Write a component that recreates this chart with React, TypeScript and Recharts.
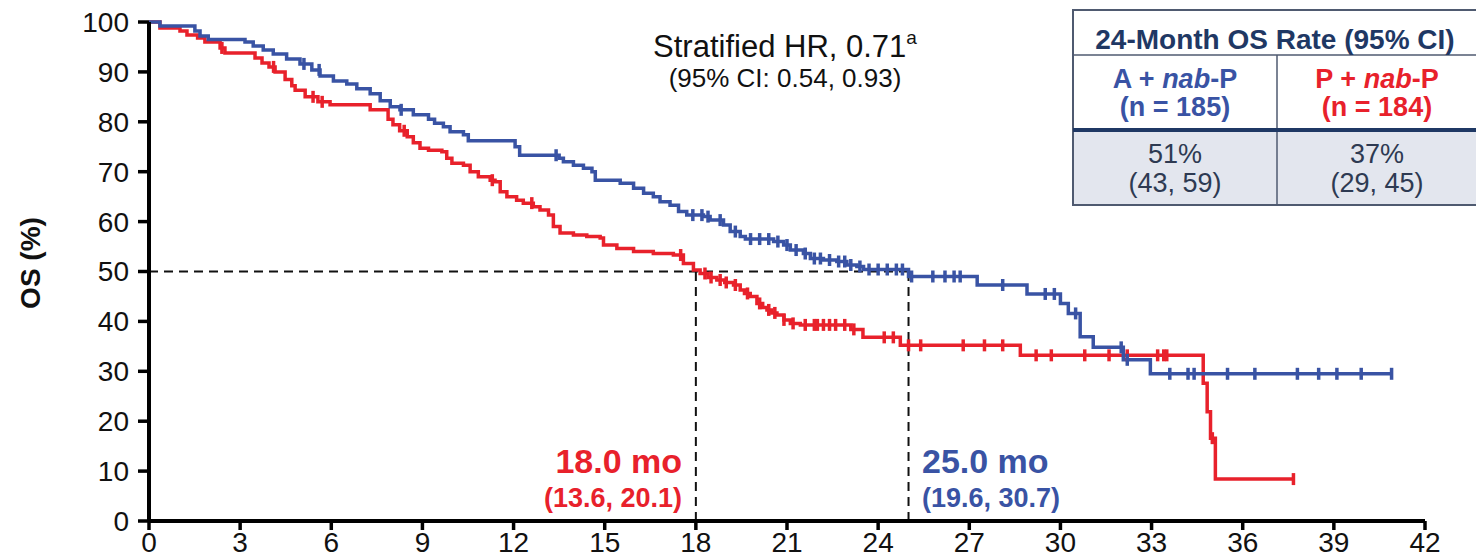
import React from "react";
import { ComposedChart, Line, XAxis, YAxis, ReferenceLine } from "recharts";

const BLUE = "#3953a4";
const RED = "#e8212b";
const NAVY = "#1f3864";
const FONT = "'Liberation Sans', Arial, sans-serif";

const xTicks = [0, 3, 6, 9, 12, 15, 18, 21, 24, 27, 30, 33, 36, 39, 42];
const yTicks = [0, 10, 20, 30, 40, 50, 60, 70, 80, 90, 100];

// A + nab-P (n = 185): event times (months) and survival (%) after each step
const blueTimes = [
  0, 0.36, 1.51, 1.68, 1.95, 3.16, 3.43, 3.76, 4.09, 4.53, 4.97, 5.36, 5.63, 6.07, 6.51, 6.84, 7.28,
  7.61, 7.94, 8.26, 8.7, 9.2, 9.4, 9.69, 9.91, 10.35, 10.51, 12.05, 12.2, 13.5, 13.64, 13.97, 14.3,
  14.58, 14.69, 15.51, 15.95, 16.28, 16.6, 16.82, 17.15, 17.43, 17.7, 18.25, 18.47, 18.91, 19.13,
  19.46, 19.63, 20.56, 20.89, 21.11, 21.54, 21.77, 22.2, 22.64, 22.97, 23.3, 23.52, 25.0, 27.26,
  28.9, 30.0, 30.26, 30.65, 31.08, 32.07, 32.96,
];
const blueSurv = [
  100, 99.2, 98.2, 97.2, 96.5, 96, 95.2, 94.4, 93.6, 92.6, 91.6, 90.4, 89.2, 88.2, 87.6, 86.6, 85.6,
  84.2, 83, 82.4, 81.4, 80.5, 79.7, 79, 78, 77.4, 76.2, 75, 73.3, 72.7, 72, 71.3, 70.7,
  70, 68.3, 67.7, 66.7, 65.7, 65, 64, 63.3, 62, 61.3, 61, 60.3, 59.3, 58,
  57, 56.5, 56, 55.3, 54.3, 53.6, 52.6, 52.3, 52, 51.3, 51, 50.4, 49, 47.3,
  45.5, 43.6, 41.6, 36.9, 34.8, 32.3, 29.5,
];
const blueCensor = [
  5.1, 5.6, 8.3, 13.4, 17.9, 18.2, 18.4, 18.8, 19.3, 19.8, 20.1, 20.4, 20.7, 21.0, 21.3, 21.6, 21.9,
  22.1, 22.4, 22.7, 22.9, 23.1, 23.4, 23.7, 24.0, 24.3, 24.6, 24.8, 25.1, 25.8, 26.2, 26.5, 26.7,
  28.1, 29.5, 29.8, 30.5, 32.0, 32.2, 33.6, 34.2, 34.4, 35.5, 36.4, 37.8, 38.5, 39.1, 39.9, 40.9,
];

// P + nab-P (n = 184)
const redTimes = [
  0, 0.36, 1.02, 1.25, 1.6, 1.84, 2.34, 2.5, 3.49, 3.72, 3.95, 4.15, 4.48, 4.7, 4.81, 5.14, 5.56,
  5.96, 7.28, 7.87, 8.03, 8.25, 8.5, 8.7, 8.92, 9.2, 9.64, 9.8, 9.97, 10.35, 10.57, 10.84, 11.23,
  11.39, 11.56, 11.78, 12.1, 12.32, 12.65, 12.87, 13.15, 13.31, 13.53, 13.97, 14.41, 14.85, 14.96,
  15.4, 15.95, 16.6, 17.26, 17.59, 17.92, 18.14, 18.4, 18.69, 18.95, 19.24, 19.46, 19.6, 19.79,
  20.01, 20.2, 20.34, 20.5, 20.67, 20.9, 21.11, 21.44, 23.1, 23.5, 24.73, 28.68, 34.7, 34.83,
  34.94, 35.1,
];
const redSurv = [
  100, 98.8, 98.2, 97.4, 96.8, 96, 94.8, 93.8, 92.8, 91.8, 91, 90, 88.5, 87.2, 86.3, 85, 84,
  83.4, 82.4, 80.5, 79.4, 78.2, 77, 75.8, 74.7, 74.3, 74, 72.7, 71.7, 71.3, 70, 69, 68.3,
  68, 66, 65, 64.3, 63.7, 63, 62.3, 61.3, 59, 57.7, 57.3, 57, 56.7, 55.3,
  54.6, 54, 53.6, 53.3, 51.6, 50.3, 49.6, 48.8, 48.3, 47.8, 47.3, 46.3, 45.6, 45,
  43.6, 42.8, 42.3, 41.7, 41.3, 40.3, 39.6, 39.3, 38.4, 36.8, 35.2, 33.2, 27.6, 21.9,
  16.6, 8.4,
];
const redCensor = [
  2.4, 4.1, 5.4, 5.7, 8.4, 11.3, 12.6, 17.5, 18.3, 18.5, 18.8, 19.0, 19.3, 19.7, 20.1, 20.4, 20.6,
  20.9, 21.2, 21.6, 21.9, 22.0, 22.2, 22.4, 22.6, 22.9, 23.2, 24.2, 24.5, 25.0, 25.4, 26.8, 27.5,
  28.1, 29.2, 29.7, 30.8, 31.6, 32.2, 33.2, 33.4, 33.5, 35.0, 37.67,
];

const medianRed = 18.0;
const medianBlue = 25.0;

type Pt = { t: number; s: number; c: boolean };

function buildCurve(times: number[], surv: number[], censor: number[]): Pt[] {
  const survAt = (t: number) => {
    let v = surv[0];
    for (let i = 0; i < times.length; i++) if (times[i] <= t) v = surv[i];
    return v;
  };
  const pts: Pt[] = times.map((t, i) => ({ t, s: surv[i], c: false }));
  censor.forEach((t) => pts.push({ t, s: survAt(t), c: true }));
  pts.sort((a, b) => a.t - b.t || Number(a.c) - Number(b.c));
  return pts;
}

const blueData = buildCurve(blueTimes, blueSurv, blueCensor);
const redData = buildCurve(redTimes, redSurv, redCensor);

const censorDot = (color: string) => (props: any) => {
  const { cx, cy, payload, index } = props;
  if (!payload || !payload.c) return <g key={`e${index}`} />;
  return (
    <line key={`c${index}`} x1={cx} x2={cx} y1={cy - 6} y2={cy + 6} stroke={color} strokeWidth={3.5} />
  );
};

const tickStyle = { fill: "#111", fontSize: 28, fontFamily: FONT };
const dash = { stroke: "#111", strokeWidth: 2, strokeDasharray: "9 6" };

export default function App() {
  return (
    <div style={{ position: "relative", width: 1476, height: 560, background: "#fff" }}>
      <style>{"body{margin:0}"}</style>
      <ComposedChart width={1476} height={560} margin={{ top: 22, right: 51, bottom: 0, left: 0 }}>
        <XAxis
          type="number"
          dataKey="t"
          domain={[0, 42]}
          ticks={xTicks}
          interval={0}
          height={39}
          tickSize={9}
          tickMargin={2}
          tick={tickStyle}
          axisLine={{ stroke: "#000", strokeWidth: 4 }}
          tickLine={{ stroke: "#000", strokeWidth: 3.5 }}
        />
        <YAxis
          type="number"
          domain={[0, 100]}
          ticks={yTicks}
          interval={0}
          width={149}
          tickSize={11}
          tickMargin={9}
          tick={tickStyle}
          axisLine={{ stroke: "#000", strokeWidth: 4 }}
          tickLine={{ stroke: "#000", strokeWidth: 3.5 }}
        />
        <ReferenceLine segment={[{ x: 0, y: 50 }, { x: medianBlue, y: 50 }]} {...dash} />
        <ReferenceLine segment={[{ x: medianRed, y: 0 }, { x: medianRed, y: 50 }]} {...dash} />
        <ReferenceLine segment={[{ x: medianBlue, y: 0 }, { x: medianBlue, y: 50 }]} {...dash} />
        <Line
          data={redData}
          dataKey="s"
          type="stepAfter"
          stroke={RED}
          strokeWidth={3.5}
          dot={censorDot(RED)}
          activeDot={false}
          isAnimationActive={false}
        />
        <Line
          data={blueData}
          dataKey="s"
          type="stepAfter"
          stroke={BLUE}
          strokeWidth={3.5}
          dot={censorDot(BLUE)}
          activeDot={false}
          isAnimationActive={false}
        />
      </ComposedChart>

      <svg
        width={1476}
        height={560}
        style={{ position: "absolute", left: 0, top: 0, pointerEvents: "none" }}
        fontFamily={FONT}
      >
        <text x={30} y={263} transform="rotate(-90 30 263)" textAnchor="middle" dominantBaseline="central"
          fontSize={28} fontWeight="bold" fill="#111">
          OS (%)
        </text>

        <text x={785} y={57} textAnchor="middle" fontSize={31} fill="#111">
          Stratified HR, 0.71<tspan fontSize={19} dy={-13}>a</tspan>
        </text>
        <text x={785} y={87} textAnchor="middle" fontSize={26} fill="#111">
          (95% CI: 0.54, 0.93)
        </text>

        <text x={682} y={473} textAnchor="end" fontSize={34} fontWeight="bold" fill={RED}>18.0 mo</text>
        <text x={682} y={507} textAnchor="end" fontSize={27} fontWeight="bold" fill={RED}>(13.6, 20.1)</text>
        <text x={922} y={473} fontSize={34} fontWeight="bold" fill={BLUE}>25.0 mo</text>
        <text x={922} y={507} fontSize={27} fontWeight="bold" fill={BLUE}>(19.6, 30.7)</text>

        <rect x={1074} y={131} width={410} height={74} fill="#e3e6ee" />
        <rect x={1073} y={10} width={420} height={195} fill="none" stroke="#4f5a70" strokeWidth={2} />
        <line x1={1073} x2={1476} y1={55} y2={55} stroke="#4f5a70" strokeWidth={1.5} />
        <line x1={1277} x2={1277} y1={55} y2={205} stroke="#4f5a70" strokeWidth={1.5} />
        <line x1={1073} x2={1476} y1={130} y2={130} stroke={NAVY} strokeWidth={4} />

        <text x={1275} y={49} textAnchor="middle" fontSize={28} fontWeight="bold" fill={NAVY}>
          24-Month OS Rate (95% CI)
        </text>
        <text x={1175} y={88} textAnchor="middle" fontSize={27} fontWeight="bold" fill={BLUE}>
          A + <tspan fontStyle="italic">nab</tspan>-P
        </text>
        <text x={1175} y={116} textAnchor="middle" fontSize={27} fontWeight="bold" fill={BLUE}>
          (n = 185)
        </text>
        <text x={1377} y={88} textAnchor="middle" fontSize={27} fontWeight="bold" fill={RED}>
          P + <tspan fontStyle="italic">nab</tspan>-P
        </text>
        <text x={1377} y={116} textAnchor="middle" fontSize={27} fontWeight="bold" fill={RED}>
          (n = 184)
        </text>
        <text x={1175} y={163} textAnchor="middle" fontSize={27} fill="#2e3a52">51%</text>
        <text x={1175} y={192} textAnchor="middle" fontSize={27} fill="#2e3a52">(43, 59)</text>
        <text x={1377} y={163} textAnchor="middle" fontSize={27} fill="#2e3a52">37%</text>
        <text x={1377} y={192} textAnchor="middle" fontSize={27} fill="#2e3a52">(29, 45)</text>
      </svg>
    </div>
  );
}
